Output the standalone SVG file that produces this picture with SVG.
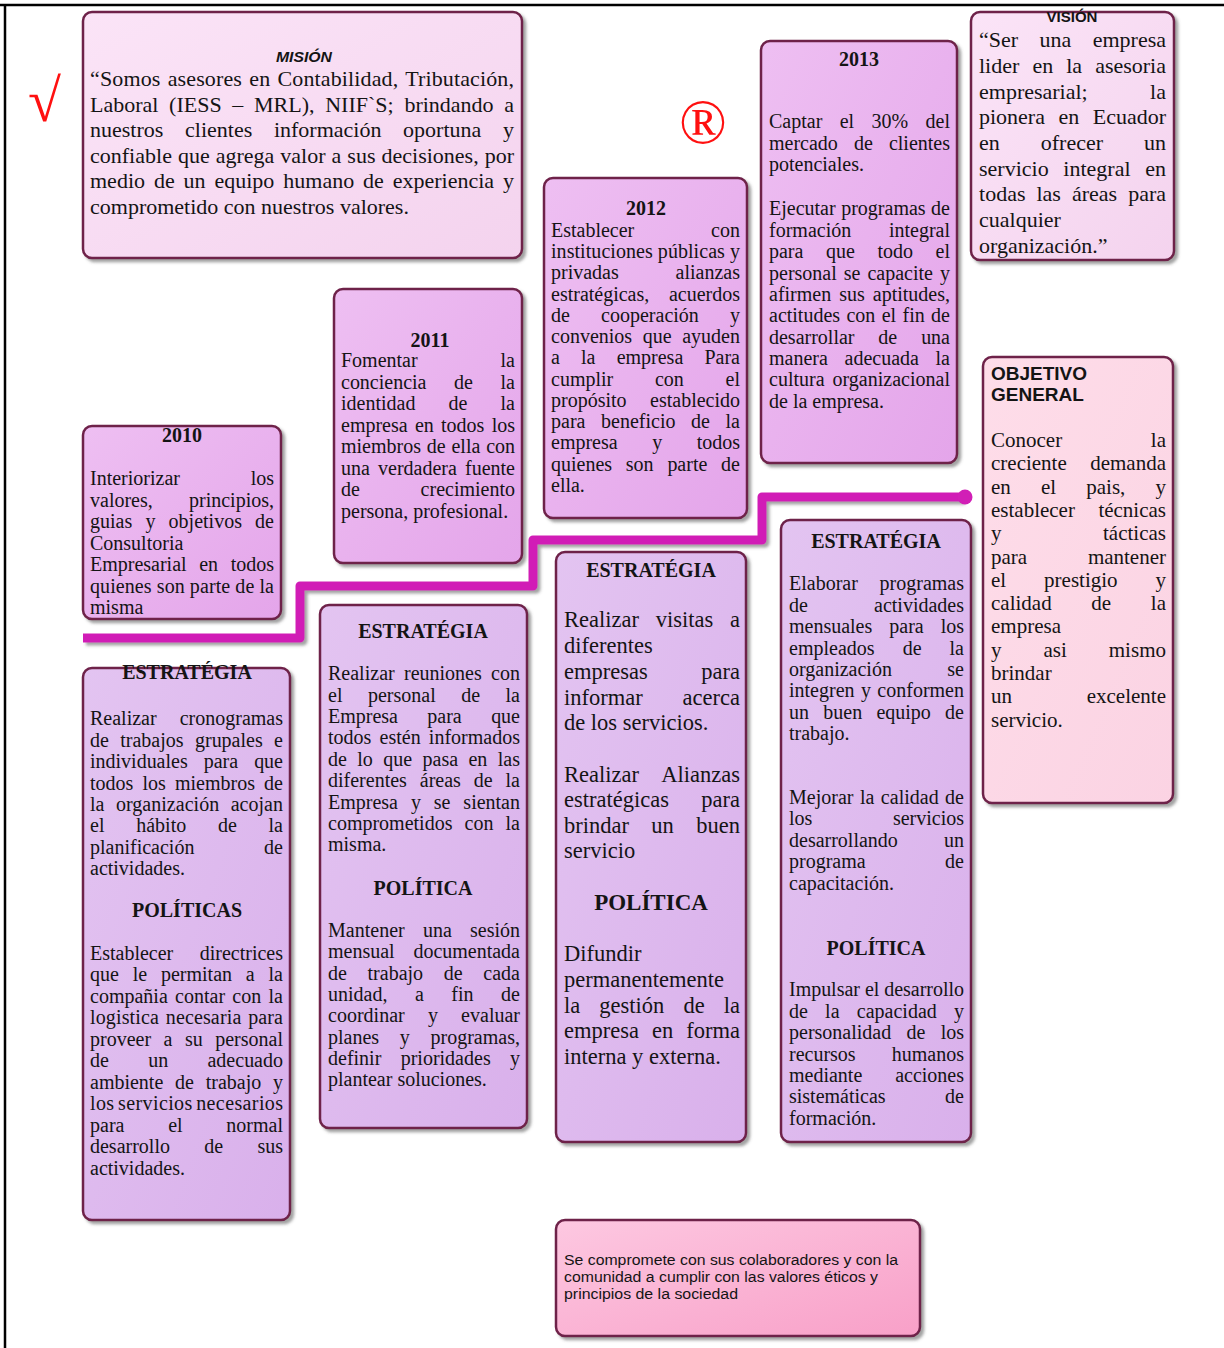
<svg xmlns="http://www.w3.org/2000/svg" width="1224" height="1348" viewBox="0 0 1224 1348">
  <style>
    text { font-family: "Liberation Serif", "Times New Roman", serif; fill: #141414; }
    .f20 text { font-size: 20px; }
    .f21 text { font-size: 21px; }
    .f22 text { font-size: 22px; }
    .f225 text { font-size: 22.5px; }
    .r { text-anchor: end; }
    .m { text-anchor: middle; }
    text.hd { font-weight: bold; font-size: 20px; text-anchor: middle; }
    text.hd23 { font-weight: bold; font-size: 23px; text-anchor: middle; }
    text.sans { font-family: "Liberation Sans", Arial, sans-serif; }
    .box { stroke: #6e2048; stroke-width: 2.5; filter: url(#sh); }
  </style>
  <defs>
    <filter id="sh" x="-10%" y="-10%" width="125%" height="125%">
      <feDropShadow dx="3" dy="3" stdDeviation="1.5" flood-color="#555555" flood-opacity="0.55"/>
    </filter>
    <linearGradient id="gLight" x1="0" y1="0" x2="1" y2="1">
      <stop offset="0" stop-color="#fbe4f7"/>
      <stop offset="1" stop-color="#f4d3ee"/>
    </linearGradient>
    <linearGradient id="gYear" x1="0" y1="0" x2="1" y2="1">
      <stop offset="0" stop-color="#eebff2"/>
      <stop offset="1" stop-color="#e4a5ea"/>
    </linearGradient>
    <linearGradient id="gEst" x1="0" y1="0" x2="1" y2="1">
      <stop offset="0" stop-color="#e3c4f1"/>
      <stop offset="1" stop-color="#d9b0eb"/>
    </linearGradient>
    <linearGradient id="gObj" x1="0" y1="0" x2="1" y2="1">
      <stop offset="0" stop-color="#fedde9"/>
      <stop offset="1" stop-color="#fbd3e3"/>
    </linearGradient>
    <linearGradient id="gPink" x1="0" y1="0" x2="1" y2="1">
      <stop offset="0" stop-color="#fdc8e1"/>
      <stop offset="1" stop-color="#f8a0c8"/>
    </linearGradient>
  </defs>

  <!-- page frame -->
  <g id="frame" stroke="#000" stroke-width="2.5">
    <line x1="0" y1="5" x2="1224" y2="5"/>
    <line x1="5" y1="4" x2="5" y2="1348"/>
  </g>

  <!-- red marks -->
  <g id="marks">
    <text x="28" y="121" style="font-size:60px;fill:#ff1010">√</text>
    <text class="m" x="703" y="143" style="font-size:63px;fill:#ff1010">®</text>
  </g>

  <!-- timeline connector -->
  <g id="connectors">
    <path d="M83,638 H300 V586 H533 V540 H762 V497 H962" fill="none" stroke="#d11fb6" stroke-width="9" stroke-linejoin="round" filter="url(#sh)"/>
    <circle cx="965" cy="497" r="7.5" fill="#d11fb6"/>
  </g>

  <!-- Misión -->
  <g id="mision" class="f22">
    <rect class="box" x="83" y="12" width="439" height="246" rx="9" fill="url(#gLight)"/>
    <text class="sans m" x="304" y="62" style="font-size:15px;font-weight:bold;font-style:italic" textLength="56" lengthAdjust="spacingAndGlyphs">MISIÓN</text>
    <text x="90" y="86" word-spacing="1.6" textLength="424">“Somos asesores en Contabilidad, Tributación,</text>
    <text x="90" y="111.5" word-spacing="5.2" textLength="424">Laboral (IESS – MRL), NIIF`S; brindando a</text>
    <text x="90" y="137" word-spacing="16.2" textLength="424">nuestros clientes información oportuna y</text>
    <text x="90" y="162.5" word-spacing="0.5" textLength="424">confiable que agrega valor a sus decisiones, por</text>
    <text x="90" y="188" word-spacing="3.4" textLength="424">medio de un equipo humano de experiencia y</text>
    <text x="90" y="213.5">comprometido con nuestros valores.</text>
  </g>

  <!-- Visión -->
  <g id="vision" class="f22">
    <rect class="box" x="971" y="12" width="203" height="248" rx="9" fill="url(#gLight)"/>
    <text class="sans m" x="1072" y="22" style="font-size:15px;font-weight:bold" textLength="51" lengthAdjust="spacingAndGlyphs">VISIÓN</text>
    <text x="979" y="47" word-spacing="15.9" textLength="187">“Ser una empresa</text>
    <text x="979" y="73" word-spacing="7.6" textLength="187">lider en la asesoria</text>
    <text x="979" y="98.5">empresarial;</text><text class="r" x="1166" y="98.5">la</text>
    <text x="979" y="124" word-spacing="8" textLength="187">pionera en Ecuador</text>
    <text x="979" y="150" word-spacing="35.5" textLength="187">en ofrecer un</text>
    <text x="979" y="175.5" word-spacing="9.2" textLength="187">servicio integral en</text>
    <text x="979" y="201" word-spacing="5.5" textLength="187">todas las áreas para</text>
    <text x="979" y="227">cualquier</text>
    <text x="979" y="252.5">organización.”</text>
  </g>

  <!-- 2013 -->
  <g id="y2013" class="f20">
    <rect class="box" x="761" y="41" width="196" height="422" rx="9" fill="url(#gYear)"/>
    <text class="hd" x="859" y="66">2013</text>
    <text x="769" y="128" word-spacing="12.4" textLength="181">Captar el 30% del</text>
    <text x="769" y="149.5" word-spacing="11.1" textLength="181">mercado de clientes</text>
    <text x="769" y="171">potenciales.</text>
    <text x="769" y="215" word-spacing="0.5" textLength="181">Ejecutar programas de</text>
    <text x="769" y="236.5">formación</text><text class="r" x="950" y="236.5">integral</text>
    <text x="769" y="258" word-spacing="17.6" textLength="181">para que todo el</text>
    <text x="769" y="279.5" word-spacing="2" textLength="181">personal se capacite y</text>
    <text x="769" y="301" word-spacing="3" textLength="181">afirmen sus aptitudes,</text>
    <text x="769" y="322" word-spacing="1.4" textLength="181">actitudes con el fin de</text>
    <text x="769" y="343.5" word-spacing="18.9" textLength="181">desarrollar de una</text>
    <text x="769" y="365" word-spacing="11.7" textLength="181">manera adecuada la</text>
    <text x="769" y="386" word-spacing="2.7" textLength="181">cultura organizacional</text>
    <text x="769" y="407.5">de la empresa.</text>
  </g>

  <!-- 2012 -->
  <g id="y2012" class="f20">
    <rect class="box" x="544" y="178" width="203" height="340" rx="9" fill="url(#gYear)"/>
    <text class="hd" x="646" y="215">2012</text>
    <text x="551" y="236.5">Establecer</text><text class="r" x="740" y="236.5">con</text>
    <text x="551" y="258" textLength="189">instituciones públicas y</text>
    <text x="551" y="279">privadas</text><text class="r" x="740" y="279">alianzas</text>
    <text x="551" y="300.5">estratégicas,</text><text class="r" x="740" y="300.5">acuerdos</text>
    <text x="551" y="321.5" word-spacing="26.2" textLength="189">de cooperación y</text>
    <text x="551" y="343" word-spacing="5.6" textLength="189">convenios que ayuden</text>
    <text x="551" y="364" word-spacing="16.2" textLength="189">a la empresa Para</text>
    <text x="551" y="385.5" word-spacing="36.7" textLength="189">cumplir con el</text>
    <text x="551" y="406.5">propósito</text><text class="r" x="740" y="406.5">establecido</text>
    <text x="551" y="428" word-spacing="10.6" textLength="189">para beneficio de la</text>
    <text x="551" y="449" word-spacing="29.5" textLength="189">empresa y todos</text>
    <text x="551" y="470.5" word-spacing="8.8" textLength="189">quienes son parte de</text>
    <text x="551" y="491.5">ella.</text>
  </g>

  <!-- 2011 -->
  <g id="y2011" class="f20">
    <rect class="box" x="334" y="289" width="188" height="274" rx="9" fill="url(#gYear)"/>
    <text class="hd" x="430" y="347">2011</text>
    <text x="341" y="367">Fomentar</text><text class="r" x="515" y="367">la</text>
    <text x="341" y="388.5" word-spacing="22.6" textLength="174">conciencia de la</text>
    <text x="341" y="410" word-spacing="28.1" textLength="174">identidad de la</text>
    <text x="341" y="431.5" word-spacing="2.3" textLength="174">empresa en todos los</text>
    <text x="341" y="453" word-spacing="0.8" textLength="174">miembros de ella con</text>
    <text x="341" y="474.5" word-spacing="3.1" textLength="174">una verdadera fuente</text>
    <text x="341" y="496">de</text><text class="r" x="515" y="496">crecimiento</text>
    <text x="341" y="517.5">persona, profesional.</text>
  </g>

  <!-- 2010 -->
  <g id="y2010" class="f20">
    <rect class="box" x="83" y="426" width="198" height="193" rx="9" fill="url(#gYear)"/>
    <text class="hd" x="182" y="442">2010</text>
    <text x="90" y="485">Interiorizar</text><text class="r" x="274" y="485">los</text>
    <text x="90" y="506.5">valores,</text><text class="r" x="274" y="506.5">principios,</text>
    <text x="90" y="528" word-spacing="8.2" textLength="184">guias y objetivos de</text>
    <text x="90" y="549.5">Consultoria</text>
    <text x="90" y="571" word-spacing="7.6" textLength="184">Empresarial en todos</text>
    <text x="90" y="592.5" textLength="184">quienes son parte de la</text>
    <text x="90" y="614">misma</text>
  </g>

  <!-- Objetivo general -->
  <g id="objetivo" class="f21">
    <rect class="box" x="983" y="357" width="190" height="446" rx="9" fill="url(#gObj)"/>
    <text class="sans" x="991" y="380" style="font-size:19px;font-weight:bold">OBJETIVO</text>
    <text class="sans" x="991" y="401" style="font-size:19px;font-weight:bold">GENERAL</text>
    <text x="991" y="446.5">Conocer</text><text class="r" x="1166" y="446.5">la</text>
    <text x="991" y="470">creciente</text><text class="r" x="1166" y="470">demanda</text>
    <text x="991" y="493.5" word-spacing="24.9" textLength="175">en el pais, y</text>
    <text x="991" y="516.5">establecer</text><text class="r" x="1166" y="516.5">técnicas</text>
    <text x="991" y="540">y</text><text class="r" x="1166" y="540">tácticas</text>
    <text x="991" y="563.5">para</text><text class="r" x="1166" y="563.5">mantener</text>
    <text x="991" y="586.5" word-spacing="32.7" textLength="175">el prestigio y</text>
    <text x="991" y="610" word-spacing="34.4" textLength="175">calidad de la</text>
    <text x="991" y="633">empresa</text>
    <text x="991" y="656.5" word-spacing="36.7" textLength="175">y asi mismo</text>
    <text x="991" y="680">brindar</text>
    <text x="991" y="703">un</text><text class="r" x="1166" y="703">excelente</text>
    <text x="991" y="726.5">servicio.</text>
  </g>

  <!-- Estrategia / políticas 1 -->
  <g id="estrategia1" class="f20">
    <rect class="box" x="83" y="668" width="207" height="552" rx="9" fill="url(#gEst)"/>
    <text class="hd" x="187" y="679">ESTRATÉGIA</text>
    <text x="90" y="725">Realizar</text><text class="r" x="283" y="725">cronogramas</text>
    <text x="90" y="746.5" word-spacing="6.4" textLength="193">de trabajos grupales e</text>
    <text x="90" y="768" word-spacing="11" textLength="193">individuales para que</text>
    <text x="90" y="789.5" word-spacing="4.1" textLength="193">todos los miembros de</text>
    <text x="90" y="811" word-spacing="6.5" textLength="193">la organización acojan</text>
    <text x="90" y="832" word-spacing="26.7" textLength="193">el hábito de la</text>
    <text x="90" y="853.5">planificación</text><text class="r" x="283" y="853.5">de</text>
    <text x="90" y="875">actividades.</text>
    <text class="hd" x="187" y="917">POLÍTICAS</text>
    <text x="90" y="960">Establecer</text><text class="r" x="283" y="960">directrices</text>
    <text x="90" y="981" word-spacing="8.8" textLength="193">que le permitan a la</text>
    <text x="90" y="1002.5" word-spacing="2.3" textLength="193">compañia contar con la</text>
    <text x="90" y="1024" word-spacing="1.6" textLength="193">logistica necesaria para</text>
    <text x="90" y="1045.5" word-spacing="7.5" textLength="193">proveer a su personal</text>
    <text x="90" y="1067" word-spacing="34.3" textLength="193">de un adecuado</text>
    <text x="90" y="1088.5" word-spacing="6.8" textLength="193">ambiente de trabajo y</text>
    <text x="90" y="1110" word-spacing="-1.8" textLength="193">los servicios necesarios</text>
    <text x="90" y="1131.5" word-spacing="38.7" textLength="193">para el normal</text>
    <text x="90" y="1153" word-spacing="29.3" textLength="193">desarrollo de sus</text>
    <text x="90" y="1174.5">actividades.</text>
  </g>

  <!-- Estrategia / política 2 -->
  <g id="estrategia2" class="f20">
    <rect class="box" x="320" y="605" width="207" height="523" rx="9" fill="url(#gEst)"/>
    <text class="hd" x="423" y="638">ESTRATÉGIA</text>
    <text x="328" y="680" word-spacing="4.3" textLength="192">Realizar reuniones con</text>
    <text x="328" y="701.5" word-spacing="20.5" textLength="192">el personal de la</text>
    <text x="328" y="723" word-spacing="24.4" textLength="192">Empresa para que</text>
    <text x="328" y="744" word-spacing="3.2" textLength="192">todos estén informados</text>
    <text x="328" y="765.5" word-spacing="5.4" textLength="192">de lo que pasa en las</text>
    <text x="328" y="787" word-spacing="7.9" textLength="192">diferentes áreas de la</text>
    <text x="328" y="808.5" word-spacing="7.9" textLength="192">Empresa y se sientan</text>
    <text x="328" y="830" word-spacing="7.1" textLength="192">comprometidos con la</text>
    <text x="328" y="851">misma.</text>
    <text class="hd" x="423" y="895">POLÍTICA</text>
    <text x="328" y="937" word-spacing="13.2" textLength="192">Mantener una sesión</text>
    <text x="328" y="958">mensual</text><text class="r" x="520" y="958">documentada</text>
    <text x="328" y="979.5" word-spacing="15.7" textLength="192">de trabajo de cada</text>
    <text x="328" y="1001" word-spacing="22.5" textLength="192">unidad, a fin de</text>
    <text x="328" y="1022" word-spacing="18.2" textLength="192">coordinar y evaluar</text>
    <text x="328" y="1043.5" word-spacing="15.7" textLength="192">planes y programas,</text>
    <text x="328" y="1065" word-spacing="14.3" textLength="192">definir prioridades y</text>
    <text x="328" y="1086">plantear soluciones.</text>
  </g>

  <!-- Estrategia / política 3 -->
  <g id="estrategia3" class="f225">
    <rect class="box" x="556" y="552" width="190" height="590" rx="9" fill="url(#gEst)"/>
    <text class="hd" x="651" y="577">ESTRATÉGIA</text>
    <text x="564" y="627" word-spacing="11.1" textLength="176">Realizar visitas a</text>
    <text x="564" y="653">diferentes</text>
    <text x="564" y="679">empresas</text><text class="r" x="740" y="679">para</text>
    <text x="564" y="704.5">informar</text><text class="r" x="740" y="704.5">acerca</text>
    <text x="564" y="730">de los servicios.</text>
    <text x="564" y="781.5">Realizar</text><text class="r" x="740" y="781.5">Alianzas</text>
    <text x="564" y="807">estratégicas</text><text class="r" x="740" y="807">para</text>
    <text x="564" y="833" word-spacing="16.8" textLength="176">brindar un buen</text>
    <text x="564" y="858">servicio</text>
    <text class="hd23" x="651" y="910">POLÍTICA</text>
    <text x="564" y="961">Difundir</text>
    <text x="564" y="987">permanentemente</text>
    <text x="564" y="1012.5" word-spacing="13.5" textLength="176">la gestión de la</text>
    <text x="564" y="1038" word-spacing="7.4" textLength="176">empresa en forma</text>
    <text x="564" y="1064">interna y externa.</text>
  </g>

  <!-- Estrategia / política 4 -->
  <g id="estrategia4" class="f20">
    <rect class="box" x="781" y="520" width="190" height="622" rx="9" fill="url(#gEst)"/>
    <text class="hd" x="876" y="548">ESTRATÉGIA</text>
    <text x="789" y="590">Elaborar</text><text class="r" x="964" y="590">programas</text>
    <text x="789" y="612">de</text><text class="r" x="964" y="612">actividades</text>
    <text x="789" y="633" word-spacing="12" textLength="175">mensuales para los</text>
    <text x="789" y="655" word-spacing="23" textLength="175">empleados de la</text>
    <text x="789" y="676">organización</text><text class="r" x="964" y="676">se</text>
    <text x="789" y="697" word-spacing="1.4" textLength="175">integren y conformen</text>
    <text x="789" y="719" word-spacing="9.3" textLength="175">un buen equipo de</text>
    <text x="789" y="740">trabajo.</text>
    <text x="789" y="804" word-spacing="1.5" textLength="175">Mejorar la calidad de</text>
    <text x="789" y="825">los</text><text class="r" x="964" y="825">servicios</text>
    <text x="789" y="847">desarrollando</text><text class="r" x="964" y="847">un</text>
    <text x="789" y="868">programa</text><text class="r" x="964" y="868">de</text>
    <text x="789" y="890">capacitación.</text>
    <text class="hd" x="876" y="955">POLÍTICA</text>
    <text x="789" y="996" textLength="175">Impulsar el desarrollo</text>
    <text x="789" y="1018" word-spacing="12.2" textLength="175">de la capacidad y</text>
    <text x="789" y="1039" word-spacing="10.3" textLength="175">personalidad de los</text>
    <text x="789" y="1061">recursos</text><text class="r" x="964" y="1061">humanos</text>
    <text x="789" y="1082">mediante</text><text class="r" x="964" y="1082">acciones</text>
    <text x="789" y="1103">sistemáticas</text><text class="r" x="964" y="1103">de</text>
    <text x="789" y="1125">formación.</text>
  </g>

  <!-- Valores -->
  <g id="valores">
    <rect class="box" x="556" y="1220" width="364" height="116" rx="9" fill="url(#gPink)"/>
    <text class="sans" x="564" y="1265" style="font-size:15.5px" textLength="334" lengthAdjust="spacingAndGlyphs">Se compromete con sus colaboradores y con la</text>
    <text class="sans" x="564" y="1282" style="font-size:15.5px" textLength="314" lengthAdjust="spacingAndGlyphs">comunidad a cumplir con las valores éticos y</text>
    <text class="sans" x="564" y="1299" style="font-size:15.5px" textLength="174" lengthAdjust="spacingAndGlyphs">principios de la sociedad</text>
  </g>
</svg>
